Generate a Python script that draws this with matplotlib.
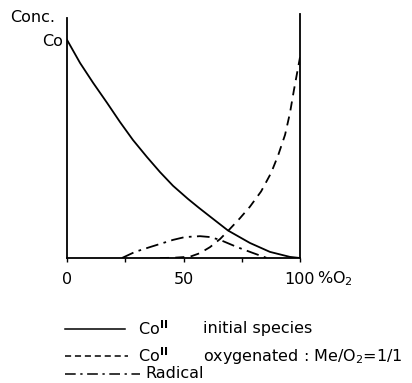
import matplotlib.pyplot as plt
from matplotlib.lines import Line2D

# values (x in % O2, y relative to Co = 1)
solid_x = [0, 5.6, 11.2, 17.2, 22.7, 28.3, 34.3, 39.9, 45.5, 51.9, 56.5, 61.4,
           69.1, 78.5, 87.1, 95.7, 100]
solid_y = [1.0, 0.894, 0.803, 0.711, 0.624, 0.541, 0.463, 0.394, 0.331, 0.271,
           0.231, 0.19, 0.126, 0.069, 0.028, 0.005, 0.0]

dashed_x = [39.9, 45.5, 52.8, 57, 61.4, 65.7, 69.1, 74.2, 78.5, 83.3, 87.6,
            90.6, 93.6, 95.7, 97.4, 100]
dashed_y = [0.0, 0.001, 0.006, 0.022, 0.05, 0.087, 0.124, 0.182, 0.235, 0.305,
            0.39, 0.47, 0.565, 0.665, 0.77, 0.92]

radical_x = [23.6, 29.2, 35.6, 45.5, 50.6, 57.1, 61.4, 65.7, 73, 79.8, 85.8]
radical_y = [0.0, 0.028, 0.05, 0.083, 0.096, 0.10, 0.096, 0.083, 0.05, 0.023, 0.0]

xticks = [0, 25, 50, 75, 100]
xticklabels = ["0", "", "50", "", "100"]

legend_dashes = [None, (4, 2.5), (7, 3, 1.5, 3)]
legend_names = [r"Co$^{\mathbf{II}}$", r"Co$^{\mathbf{II}}$", "Radical"]
legend_desc = ["initial species", "oxygenated : Me/O$_2$=1/1", ""]

fs = 11.5
lw = 1.3

fig = plt.figure(figsize=(4.12, 3.83), dpi=100)
ax = fig.add_axes([67 / 412, 1 - 258 / 383, 233 / 412, 240 / 383])

ax.plot(solid_x, solid_y, "-", color="black", lw=lw)
ax.plot(dashed_x, dashed_y, color="black", lw=lw, dashes=(5, 3.5))
ax.plot(radical_x, radical_y, color="black", lw=lw, dashes=(7, 3, 1.5, 3))
# right-hand boundary line (taller than the left axis)
ax.plot([100, 100], [0, 1.12], "-", color="black", lw=lw, clip_on=False)

ax.set_xlim(0, 100)
ax.set_ylim(0, 1.10)
for s in ["top", "right"]:
    ax.spines[s].set_visible(False)
ax.spines["left"].set_linewidth(lw)
ax.spines["bottom"].set_linewidth(lw)

ax.set_xticks(xticks)
ax.set_xticklabels(xticklabels, fontsize=fs)
ax.tick_params(axis="x", length=3, width=1, pad=7)
ax.set_yticks([1.0])
ax.set_yticklabels(["Co"], fontsize=fs)
ax.tick_params(axis="y", length=0, pad=3)

ax.text(-0.05, 1.0, "Conc.", transform=ax.transAxes, fontsize=fs,
        ha="right", va="center")
ax.text(1.075, -0.088, "%O$_2$", transform=ax.transAxes, fontsize=fs,
        ha="left", va="center")

# legend drawn below the chart
rows_y = [1 - 329 / 383, 1 - 356 / 383, 1 - 374 / 383]
line_ends = [125, 128, 140]
for i in range(3):
    ln = Line2D([65 / 412, line_ends[i] / 412], [rows_y[i], rows_y[i]],
                color="black", lw=1.1)
    if legend_dashes[i]:
        ln.set_dashes(legend_dashes[i])
    fig.add_artist(ln)
    x_name = 138 / 412 if i < 2 else 145 / 412
    fig.text(x_name, rows_y[i], legend_names[i], fontsize=fs, va="center", ha="left")
    if legend_desc[i]:
        fig.text(203 / 412, rows_y[i], legend_desc[i], fontsize=fs, va="center", ha="left")

fig.savefig("out.png", dpi=100)
